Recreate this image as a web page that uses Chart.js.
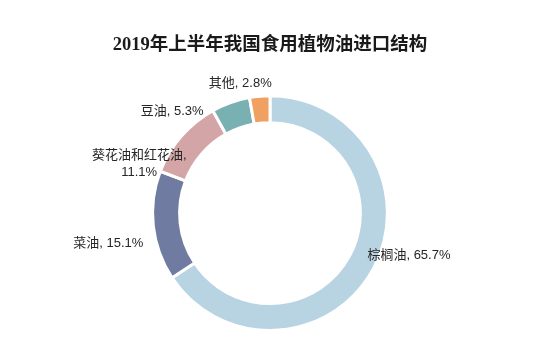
<!DOCTYPE html>
<html>
<head>
<meta charset="utf-8">
<script src="https://cdn.jsdelivr.net/npm/chart.js@4.4.1/dist/chart.umd.min.js"></script>
<style>
  html, body { margin: 0; padding: 0; background: #fff; }
  #wrap { width: 536px; height: 353px; }
</style>
</head>
<body>
<div id="wrap"><canvas id="oilChart" width="536" height="353"></canvas></div>
<script>
// Import structure, H1 2019 (%)
const categories = ['棕榈油', '菜油', '葵花油和红花油', '豆油', '其他'];
const shares = [65.7, 15.1, 11.1, 5.3, 2.8];
const sliceColors = ['#b8d4e3', '#6f7ba0', '#d4a5a6', '#79b0b2', '#f0a060'];

// label text lines for each slice
const labelLines = [
  ['棕榈油, 65.7%'],
  ['菜油, 15.1%'],
  ['葵花油和红花油,', '11.1%'],
  ['豆油, 5.3%'],
  ['其他, 2.8%']
];

// nudges from the arc's outer mid point (label placement only)
const labelPlace = [
  { dx: -6, dy: -13, align: 'left' },
  { dx: -10, dy: 17, align: 'right' },
  { dx: -42, dy: 19, align: 'center' },
  { dx: -27, dy: 9, align: 'right' },
  { dx: 12, dy: -13, align: 'right' }
];

const sliceLabels = {
  id: 'sliceLabels',
  afterDatasetsDraw(chart) {
    const ctx = chart.ctx;
    const meta = chart.getDatasetMeta(0);
    ctx.save();
    ctx.font = '13px "Liberation Sans", Arial, "Noto Sans CJK SC", sans-serif';
    ctx.fillStyle = '#262626';
    ctx.textBaseline = 'middle';
    meta.data.forEach((arc, i) => {
      const p = arc.getProps(['x', 'y', 'startAngle', 'endAngle', 'outerRadius'], true);
      const mid = (p.startAngle + p.endAngle) / 2;
      const ax = p.x + Math.cos(mid) * p.outerRadius;
      const ay = p.y + Math.sin(mid) * p.outerRadius;
      const place = labelPlace[i];
      ctx.textAlign = place.align;
      labelLines[i].forEach((line, j) => {
        ctx.fillText(line, ax + place.dx, ay + place.dy + j * 17);
      });
    });
    ctx.restore();
  }
};

new Chart(document.getElementById('oilChart'), {
  type: 'doughnut',
  data: {
    labels: categories,
    datasets: [{
      data: shares,
      backgroundColor: sliceColors,
      borderColor: '#ffffff',
      borderWidth: 3,
      hoverOffset: 0
    }]
  },
  options: {
    responsive: false,
    animation: false,
    cutout: '77%',
    layout: { padding: { left: 4, right: 0, top: 0, bottom: 21 } },
    plugins: {
      legend: { display: false },
      tooltip: { enabled: false },
      title: {
        display: true,
        text: '2019年上半年我国食用植物油进口结构',
        color: '#1a1a1a',
        font: { family: '"Liberation Serif", "DejaVu Serif", "Noto Sans CJK SC", serif', size: 18.5, weight: 'bold' },
        padding: { top: 34, bottom: 38 }
      }
    }
  },
  plugins: [sliceLabels]
});
</script>
</body>
</html>
